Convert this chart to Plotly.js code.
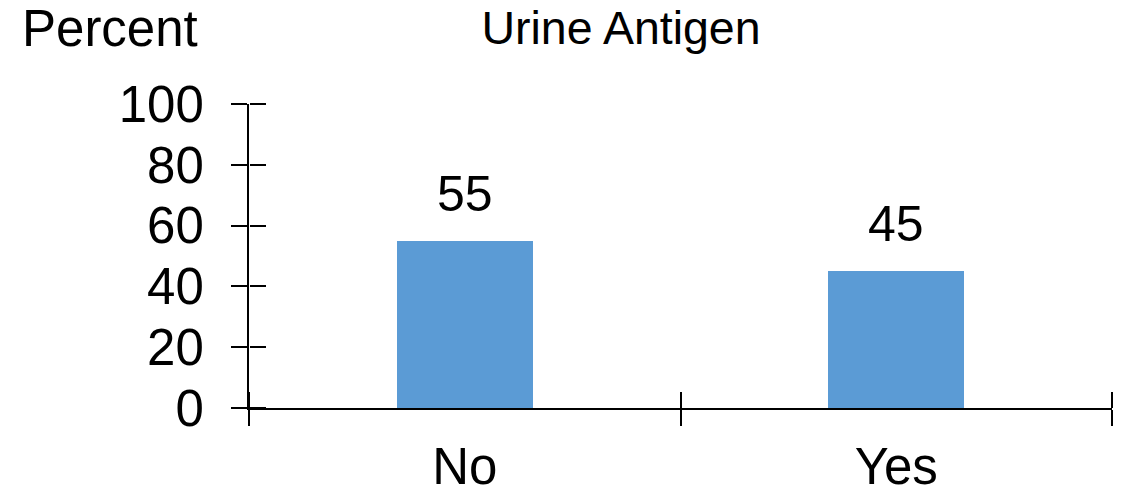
<!DOCTYPE html>
<html>
<head>
<meta charset="utf-8">
<script src="https://cdn.plot.ly/plotly-3.0.1.min.js"></script>
<style>html,body{margin:0;padding:0;background:#fff;}#chart{width:1136px;height:492px;}</style>
</head>
<body>
<div id="chart"></div>
<script>
const categories = ["No", "Yes"];
const percentValues = [55, 45];
const valueLabels = ["55", "45"];
const yTickValues = [0, 20, 40, 60, 80, 100];
const chartTitle = "Urine Antigen";
const yAxisLabel = "Percent";

const FONT = "Liberation Sans, Arial, sans-serif";
const BAR_COLOR = "#5B9BD5";

const traces = [
  {
    type: "bar",
    x: categories,
    y: percentValues,
    width: 0.315,
    marker: { color: BAR_COLOR, line: { width: 0 } },
    hoverinfo: "skip",
    xaxis: "x",
    yaxis: "y"
  },
  {
    type: "bar",
    x: categories,
    y: percentValues,
    width: 0.315,
    marker: { color: "rgba(0,0,0,0)", line: { width: 0 } },
    hoverinfo: "skip",
    xaxis: "x2",
    yaxis: "y2",
    showlegend: false
  }
];

const annotations = categories.map((c, i) => ({
  x: c,
  y: percentValues[i],
  xref: "x",
  yref: "y",
  text: valueLabels[i],
  showarrow: false,
  xanchor: "center",
  yanchor: "bottom",
  yshift: 17,
  font: { family: FONT, size: 50, color: "#000" }
}));

annotations.push({
  x: (20 - 249) / 863,
  y: 1 + (104 + 2) / 304,
  xref: "paper",
  yref: "paper",
  text: yAxisLabel,
  showarrow: false,
  xanchor: "left",
  yanchor: "top",
  font: { family: FONT, size: 51, color: "#000" }
});

const axisCommon = {
  showgrid: false,
  zeroline: false,
  linecolor: "#000",
  linewidth: 2,
  tickcolor: "#000",
  tickwidth: 2,
  ticklen: 16
};

const layout = {
  width: 1136,
  height: 492,
  margin: { l: 249, r: 24, t: 104, b: 84, pad: 0 },
  paper_bgcolor: "#fff",
  plot_bgcolor: "rgba(0,0,0,0)",
  showlegend: false,
  bargap: 0,
  title: {
    text: chartTitle,
    x: 621 / 1136,
    xref: "container",
    xanchor: "center",
    y: 1 - 11 / 492,
    yref: "container",
    yanchor: "top",
    font: { family: FONT, size: 46.5, color: "#000" }
  },
  xaxis: Object.assign({}, axisCommon, {
    type: "category",
    categoryarray: categories,
    showline: true,
    ticks: "outside",
    tickson: "boundaries",
    ticklabelstandoff: 13,
    tickfont: { family: FONT, size: 51, color: "#000" },
    range: [-0.5, 1.5],
    fixedrange: true
  }),
  yaxis: Object.assign({}, axisCommon, {
    range: [0, 100],
    tickvals: yTickValues,
    showline: true,
    ticks: "outside",
    ticklabelstandoff: 17,
    tickfont: { family: FONT, size: 51, color: "#000" },
    fixedrange: true
  }),
  xaxis2: Object.assign({}, axisCommon, {
    type: "category",
    categoryarray: categories,
    overlaying: "x",
    anchor: "free",
    position: 0,
    side: "top",
    showline: false,
    ticks: "outside",
    tickson: "boundaries",
    showticklabels: false,
    range: [-0.5, 1.5],
    fixedrange: true
  }),
  yaxis2: Object.assign({}, axisCommon, {
    overlaying: "y",
    anchor: "free",
    position: 0,
    side: "right",
    range: [0, 100],
    tickvals: yTickValues,
    showline: false,
    ticks: "outside",
    showticklabels: false,
    fixedrange: true
  }),
  annotations: annotations
};

Plotly.newPlot("chart", traces, layout, { displayModeBar: false, staticPlot: true });
</script>
</body>
</html>
